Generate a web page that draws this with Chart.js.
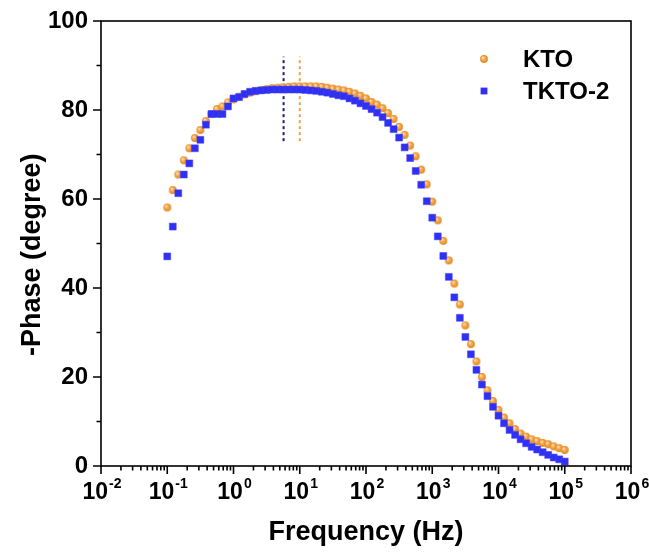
<!DOCTYPE html>
<html><head><meta charset="utf-8">
<script src="https://cdn.jsdelivr.net/npm/chart.js@4.4.1/dist/chart.umd.min.js"></script>
<style>html,body{margin:0;padding:0;background:#fff;}canvas{display:block}</style>
</head><body>
<canvas id="c" width="649" height="552"></canvas>
<script>
const frequencies = [0.1,0.1212,0.1468,0.1778,0.2154,0.2610,0.3162,0.3831,0.4642,0.5623,0.6813,0.8254,
  1,1.212,1.468,1.778,2.154,2.610,3.162,3.831,4.642,5.623,6.813,8.254,
  10,12.12,14.68,17.78,21.54,26.10,31.62,38.31,46.42,56.23,68.13,82.54,
  100,121.2,146.8,177.8,215.4,261.0,316.2,383.1,464.2,562.3,681.3,825.4,
  1000,1212,1468,1778,2154,2610,3162,3831,4642,5623,6813,8254,
  10000,12120,14680,17780,21540,26100,31620,38310,46420,56230,68130,82540,100000];
const ktoPhase = [58.1,62.0,65.5,68.7,71.4,73.7,75.5,77.5,79.1,80.2,80.8,81.7,
  82.4,83.0,83.5,83.9,84.2,84.5,84.7,84.9,85.0,85.1,85.2,85.3,
  85.3,85.3,85.3,85.3,85.2,85.0,84.8,84.6,84.4,84.1,83.7,83.2,
  82.6,81.8,81.2,80.4,79.3,78.0,76.2,74.4,72.0,69.6,66.6,63.3,
  59.4,55.2,50.6,46.2,41.0,36.3,31.6,27.4,23.5,20.0,17.0,14.6,
  12.6,10.9,9.6,8.3,7.3,6.6,6.0,5.6,5.2,4.9,4.4,4.0,3.6];
const tkto2Phase = [47.1,53.8,61.3,65.5,68.0,71.4,73.3,76.7,79.1,79.1,79.1,80.8,
  82.6,82.9,83.6,84.1,84.3,84.4,84.5,84.6,84.6,84.6,84.6,84.6,
  84.6,84.5,84.4,84.3,84.1,83.9,83.6,83.3,83.1,82.6,82.1,81.5,
  80.9,80.2,79.4,78.4,77.1,75.7,73.8,71.6,69.2,66.3,63.2,59.5,
  55.8,51.6,47.2,42.5,37.9,33.3,29.0,25.1,21.6,18.3,15.7,13.3,
  11.3,9.6,8.1,7.0,6.0,5.1,4.3,3.7,3.1,2.5,1.9,1.5,1.0];
const seriesLabels = ['KTO', 'TKTO-2'];
const peakFrequencies = [10, 5.7];       // KTO, TKTO-2 marker lines
const peakLineSpan = [73, 92];           // phase range covered by the dashed lines
const xTickExponents = [-2,-1,0,1,2,3,4,5,6];
const yTickValues = [0,20,40,60,80,100];

const ORANGE = '#F5A03A', BLUE = '#3030F2';
const FONT = "Arial, 'Liberation Sans', sans-serif";

function sphere(r) {
  const s = Math.ceil(r * 2) + 2;
  const cv = document.createElement('canvas');
  cv.width = cv.height = s;
  const g = cv.getContext('2d');
  const c = s / 2;
  const grad = g.createRadialGradient(c - r * 0.35, c - r * 0.4, 0.2, c, c, r);
  grad.addColorStop(0, '#FFE9C8');
  grad.addColorStop(0.45, '#F7A94A');
  grad.addColorStop(1, '#E08620');
  g.beginPath(); g.arc(c, c, r, 0, Math.PI * 2); g.fillStyle = grad; g.fill();
  return cv;
}
const ball = sphere(3.9);

const decor = {
  id: 'decor',
  afterDraw(chart) {
    const {ctx, chartArea: a, scales: {x, y}} = chart;
    ctx.save();
    ctx.strokeStyle = '#000'; ctx.lineWidth = 1.6;
    ctx.strokeRect(a.left, a.top, a.right - a.left, a.bottom - a.top);
    ctx.beginPath();
    const eMin = xTickExponents[0], eMax = xTickExponents[xTickExponents.length - 1];
    for (let e = eMin; e <= eMax; e++) {
      for (let m = 1; m <= 9; m++) {
        if (e === eMax && m > 1) break;
        const px = x.getPixelForValue(m * Math.pow(10, e));
        const len = m === 1 ? 8 : 4.5;
        ctx.moveTo(px, a.bottom); ctx.lineTo(px, a.bottom + len);
      }
    }
    for (let v = 0; v <= 100; v += 10) {
      const py = y.getPixelForValue(v);
      const len = v % 20 === 0 ? 8 : 4.5;
      ctx.moveTo(a.left, py); ctx.lineTo(a.left - len, py);
    }
    ctx.stroke();
    // x tick labels 10^n
    ctx.fillStyle = '#000';
    ctx.textBaseline = 'alphabetic'; ctx.textAlign = 'left';
    xTickExponents.forEach(e => {
      const px = x.getPixelForValue(Math.pow(10, e));
      ctx.font = 'bold 23px ' + FONT;
      const w1 = ctx.measureText('10').width;
      ctx.font = 'bold 14px ' + FONT;
      const es = String(e);
      const w2 = ctx.measureText(es).width;
      const start = px - (w1 + 1 + w2) / 2 + 1;
      ctx.font = 'bold 23px ' + FONT;
      ctx.fillText('10', start, a.bottom + 33);
      ctx.font = 'bold 14px ' + FONT;
      ctx.fillText(es, start + w1 + 1, a.bottom + 22);
    });
    // legend
    const lx = 484, ly = [59, 91];
    ctx.drawImage(ball, lx - ball.width / 2, ly[0] - ball.height / 2);
    ctx.fillStyle = BLUE; ctx.fillRect(lx - 3.4, ly[1] - 3.4, 6.8, 6.8);
    ctx.fillStyle = '#000'; ctx.font = 'bold 24px ' + FONT; ctx.textBaseline = 'middle';
    seriesLabels.forEach((t, i) => ctx.fillText(t, 523, ly[i] + 1));
    ctx.restore();
  }
};

new Chart(document.getElementById('c'), {
  type: 'scatter',
  data: {
    datasets: [
      { label: seriesLabels[0], data: frequencies.map((f, i) => ({x: f, y: ktoPhase[i]})),
        pointStyle: ball, pointRadius: 4, showLine: false, order: 2 },
      { label: seriesLabels[1], data: frequencies.map((f, i) => ({x: f, y: tkto2Phase[i]})),
        pointStyle: 'rect', pointRadius: 4.9, backgroundColor: BLUE, borderColor: '#4545ff', borderWidth: 0.5,
        showLine: false, order: 1 },
      { label: 'KTO peak', data: [{x: peakFrequencies[0], y: peakLineSpan[0]}, {x: peakFrequencies[0], y: peakLineSpan[1]}],
        showLine: true, borderColor: '#E9A24C', borderWidth: 2, borderDash: [3, 3], pointRadius: 0, order: 3 },
      { label: 'TKTO-2 peak', data: [{x: peakFrequencies[1], y: peakLineSpan[0]}, {x: peakFrequencies[1], y: peakLineSpan[1]}],
        showLine: true, borderColor: '#1E1E70', borderWidth: 2, borderDash: [3, 3], pointRadius: 0, order: 3 }
    ]
  },
  options: {
    responsive: false, animation: false,
    layout: { padding: { top: 21, right: 18, left: 0, bottom: 0 } },
    plugins: { legend: { display: false }, tooltip: { enabled: false } },
    scales: {
      x: {
        type: 'logarithmic', min: 0.01, max: 1e6,
        grid: { display: false }, border: { display: false },
        ticks: { display: false },
        title: { display: true, text: 'Frequency (Hz)', color: '#000',
          font: { family: FONT, size: 27, weight: 'bold' }, padding: { top: 0, bottom: 3 } },
        afterFit: s => { s.height = 86; }
      },
      y: {
        min: 0, max: 100,
        afterBuildTicks: s => { s.ticks = yTickValues.map(v => ({value: v})); },
        grid: { display: false, tickLength: 8 }, border: { display: false },
        ticks: { color: '#000', padding: 5, font: { family: FONT, size: 24, weight: 'bold' } },
        title: { display: true, text: '-Phase (degree)\u00a0\u00a0\u00a0', color: '#000',
          font: { family: FONT, size: 27, weight: 'bold' }, padding: { top: 16, bottom: 0 } },
        afterFit: s => { s.width = 101; }
      }
    }
  },
  plugins: [decor]
});
</script>
</body></html>
